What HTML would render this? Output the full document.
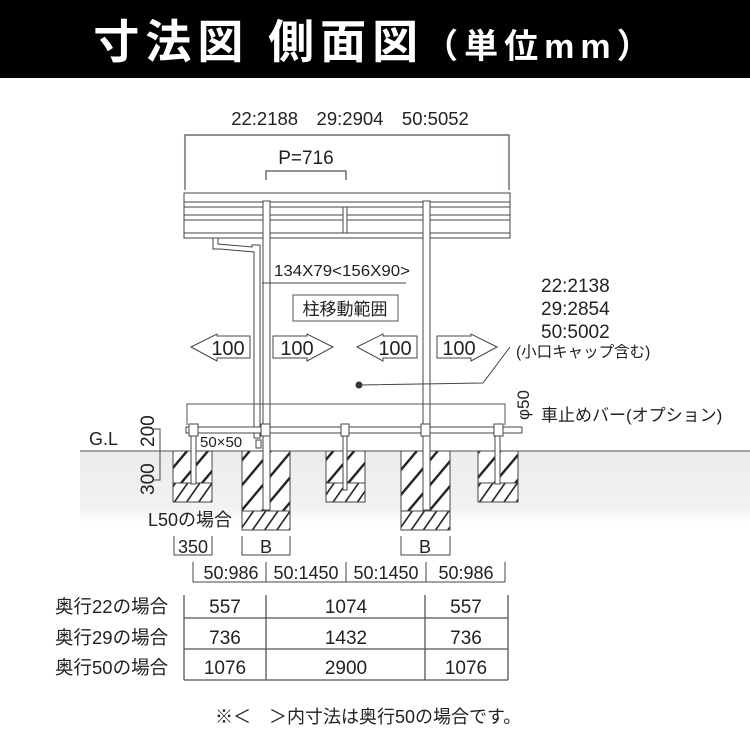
<!DOCTYPE html>
<html><head><meta charset="utf-8"><style>
html,body{margin:0;padding:0;background:#fff;}
svg{display:block;}
text{font-family:"Liberation Sans","Noto Sans CJK JP",sans-serif;fill:#222;}
</style></head><body>
<svg width="750" height="750" viewBox="0 0 750 750" xmlns="http://www.w3.org/2000/svg">
<defs>
<pattern id="h" width="16" height="16" patternUnits="userSpaceOnUse" patternTransform="rotate(40)">
<rect width="16" height="16" fill="#fff"/><rect x="0" y="0" width="2.4" height="16" fill="#222"/>
</pattern>
<pattern id="h2" width="10" height="10" patternUnits="userSpaceOnUse" patternTransform="rotate(35)">
<rect width="10" height="10" fill="#fff"/><rect x="0" y="0" width="1.6" height="10" fill="#222"/>
</pattern>
<linearGradient id="g" x1="0" y1="0" x2="0" y2="1">
<stop offset="0" stop-color="#ececec"/><stop offset="0.8" stop-color="#f2f2f2"/><stop offset="1" stop-color="#fff"/>
</linearGradient>
</defs>
<rect x="0" y="0" width="750" height="78" fill="#000"/>
<text x="375" y="58" text-anchor="middle" style="fill:#fff;font-weight:bold;font-size:46px;letter-spacing:6px">寸法図 側面図<tspan font-size="34">（単位mm）</tspan></text>

<rect x="80" y="451" width="670" height="72" fill="url(#g)"/>
<line x1="80" y1="451" x2="750" y2="451" stroke="#555" stroke-width="1"/>

<g stroke="#5a4a44" fill="none" stroke-width="1.2">
<polyline points="185,190 185,135 509,135 509,190"/>
<polyline points="266,180 266,171 346,171 346,180"/>
</g>
<text x="350" y="125" text-anchor="middle" font-size="18.5">22:2188　29:2904　50:5052</text>
<text x="306" y="164" text-anchor="middle" font-size="19">P=716</text>

<g stroke="#444" fill="#fff" stroke-width="1">
<rect x="184" y="193" width="326" height="45"/>
<line x1="184" y1="202" x2="510" y2="202"/>
<line x1="184" y1="207" x2="510" y2="207"/>
<line x1="184" y1="215" x2="510" y2="215"/>
<line x1="184" y1="220" x2="510" y2="220"/>
<line x1="184" y1="233" x2="510" y2="233"/>
<rect x="343" y="207" width="4" height="26"/>
<rect x="263" y="201" width="7" height="310"/>
<rect x="423" y="201" width="7" height="310"/>
<path d="M213 238 L218 238 L218 244 L252 247 L252 245 L260 245 L260 438 L254 438 L254 252 L220 249 L213 249 Z"/>
<rect x="256" y="440" width="5" height="8"/>
</g>
<line x1="262" y1="283" x2="406" y2="283" stroke="#444"/>
<text x="274" y="276" font-size="16" textLength="136" lengthAdjust="spacingAndGlyphs">134X79&lt;156X90&gt;</text>
<rect x="293" y="295" width="105" height="26" fill="#fff" stroke="#555"/>
<text x="345" y="315" text-anchor="middle" font-size="17">柱移動範囲</text>

<g fill="#fff" stroke="#444" stroke-width="1">
<polygon points="191,347 217,334 217,336 250,336 250,358 217,358 217,361"/>
<polygon points="333,347 307,334 307,336 273,336 273,358 307,358 307,361"/>
<polygon points="357,347 383,334 383,336 417,336 417,358 383,358 383,361"/>
<polygon points="497,347 471,334 471,336 437,336 437,358 471,358 471,361"/>
</g>
<g font-size="20" text-anchor="middle">
<text x="228" y="355">100</text><text x="297" y="355">100</text>
<text x="395" y="355">100</text><text x="459" y="355">100</text>
</g>
<circle cx="359" cy="385" r="3.5" fill="#333"/>
<polyline points="359,385 483,383 510,347" fill="none" stroke="#444"/>
<g font-size="19"><text x="541" y="292">22:2138</text><text x="541" y="315">29:2854</text><text x="541" y="338">50:5002</text></g>
<text x="516" y="357" font-size="15.5">(小口キャップ含む)</text>

<polyline points="187,425 187,404 505,404 505,425" fill="none" stroke="#555"/>
<text transform="translate(529,420) rotate(-90)" font-size="17">φ50</text>
<text x="541" y="421" font-size="17">車止めバー(オプション)</text>

<rect x="173" y="451" width="39" height="51" fill="url(#h)" stroke="#444"/>
<rect x="173" y="483" width="39" height="19" fill="url(#h2)" stroke="#444"/>
<rect x="242" y="451" width="48" height="79" fill="url(#h)" stroke="#444"/>
<rect x="242" y="511" width="48" height="19" fill="url(#h2)" stroke="#444"/>
<rect x="326" y="451" width="39" height="51" fill="url(#h)" stroke="#444"/>
<rect x="326" y="483" width="39" height="19" fill="url(#h2)" stroke="#444"/>
<rect x="401" y="451" width="49" height="79" fill="url(#h)" stroke="#444"/>
<rect x="401" y="511" width="49" height="19" fill="url(#h2)" stroke="#444"/>
<rect x="478" y="451" width="40" height="51" fill="url(#h)" stroke="#444"/>
<rect x="478" y="483" width="40" height="19" fill="url(#h2)" stroke="#444"/>
<g fill="#fff" stroke="#444">
<rect x="263" y="430" width="7" height="80"/>
<rect x="423" y="430" width="7" height="80"/>
<rect x="191" y="432" width="5" height="52"/>
<rect x="343" y="428" width="4" height="62"/>
<rect x="495" y="432" width="5" height="52"/>
<rect x="186" y="427" width="336" height="6"/>
<rect x="189" y="424" width="9" height="12"/>
<rect x="261" y="424" width="9" height="12"/>
<rect x="341" y="424" width="8" height="12"/>
<rect x="421" y="424" width="9" height="12"/>
<rect x="494" y="424" width="9" height="12"/>
</g>
<text x="200" y="447" font-size="15">50×50</text>
<text x="89" y="445" font-size="18">G.L</text>
<text transform="translate(154,447) rotate(-90)" font-size="19">200</text>
<text transform="translate(154,495) rotate(-90)" font-size="19">300</text>
<polyline points="152,429 160,429 160,480 152,480" fill="none" stroke="#444"/>
<text x="148" y="526" font-size="18">L50の場合</text>

<g stroke="#444" fill="none">
<polyline points="174,536 174,555 212,555 212,536"/>
<polyline points="242,536 242,555 290,555 290,536"/>
<polyline points="401,536 401,555 450,555 450,536"/>
<line x1="193" y1="582" x2="505" y2="582"/>
<line x1="193" y1="562" x2="193" y2="582"/><line x1="266" y1="562" x2="266" y2="582"/>
<line x1="346" y1="562" x2="346" y2="582"/><line x1="426" y1="562" x2="426" y2="582"/>
<line x1="505" y1="562" x2="505" y2="582"/>
</g>
<text x="193" y="553" text-anchor="middle" font-size="18">350</text>
<text x="266" y="553" text-anchor="middle" font-size="18">B</text>
<text x="425" y="553" text-anchor="middle" font-size="18">B</text>
<g font-size="18" text-anchor="middle">
<text x="231" y="579">50:986</text><text x="306" y="579">50:1450</text>
<text x="386" y="579">50:1450</text><text x="466" y="579">50:986</text>
</g>

<g stroke="#555" fill="none" stroke-width="1.3">
<line x1="184" y1="595" x2="184" y2="680"/><line x1="266" y1="595" x2="266" y2="680"/>
<line x1="425" y1="595" x2="425" y2="680"/><line x1="508" y1="595" x2="508" y2="680"/>
<line x1="184" y1="618" x2="508" y2="618"/><line x1="184" y1="649" x2="508" y2="649"/>
<line x1="184" y1="680" x2="508" y2="680"/>
</g>
<g font-size="19" text-anchor="middle">
<text x="225" y="613">557</text><text x="346" y="613">1074</text><text x="466" y="613">557</text>
<text x="225" y="644">736</text><text x="346" y="644">1432</text><text x="466" y="644">736</text>
<text x="225" y="674">1076</text><text x="346" y="674">2900</text><text x="466" y="674">1076</text>
</g>
<g font-size="18.5">
<text x="55" y="613">奥行22の場合</text><text x="55" y="644">奥行29の場合</text><text x="55" y="674">奥行50の場合</text>
</g>
<text x="215" y="723" font-size="18">※＜　＞内寸法は奥行50の場合です。</text>
</svg>
</body></html>
